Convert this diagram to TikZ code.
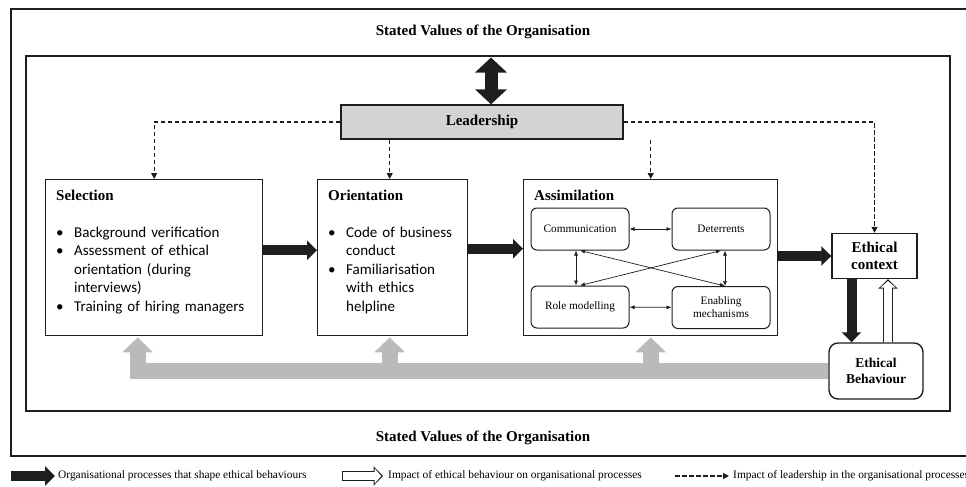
\documentclass[tikz,border=0pt]{standalone}
\usepackage{fontspec}
\setmainfont{Liberation Serif}
\newfontfamily\listfont{Carlito}
\usetikzlibrary{arrows.meta}
\definecolor{ink}{RGB}{30,30,30}
\definecolor{leadfill}{RGB}{210,211,213}
\definecolor{feedgray}{RGB}{185,186,188}
\tikzset{
	outerframe/.style={draw=ink, line width=1.2pt},
	innerframe/.style={draw=ink, line width=2.6pt},
	procbox/.style={draw=ink, line width=1.4pt, fill=white, anchor=north west, inner sep=0pt, minimum height=156pt},
	subbox/.style={draw=ink, line width=1pt, rounded corners=6pt, fill=white, minimum width=98pt, minimum height=42pt, align=center, font=\fontsize{11.3}{13}\selectfont},
	boxtext/.style={anchor=north west, align=left, inner sep=0pt, font=\fontsize{15}{18.5}\selectfont},
	heading/.style={font=\bfseries\fontsize{15}{18}\selectfont},
	keytext/.style={anchor=west, inner sep=0pt, font=\fontsize{11.4}{13}\selectfont},
	fat/.style={draw=ink, line width=10pt, -{Triangle[length=10pt,width=19pt]}},
	hollow/.style={draw=white, line width=7.4pt, -{Triangle[length=6.5pt,width=14.5pt]}, shorten >=1.8pt, shorten <=0.8pt,
		preaction={draw=ink, line width=10pt, -{Triangle[length=9.5pt,width=19pt]}, shorten >=0pt, shorten <=0pt}},
	leadline/.style={draw=ink, line width=1.2pt, dash pattern=on 4.5pt off 2.5pt, -{Triangle[length=6pt,width=6pt]}},
	link/.style={draw=ink, line width=0.7pt, {Latex[length=5pt,width=4pt]}-{Latex[length=5pt,width=4pt]}},
	feed/.style={draw=feedgray, line width=16pt, -{Triangle[length=15pt,width=30pt]}, shorten >=1pt},
}
\newcommand\bpoint[1]{\par\hangindent=18pt\hangafter=1\noindent\makebox[18pt][l]{\textbullet}#1}

\begin{document}
\begin{tikzpicture}[x=1pt, y=-1pt]
	\useasboundingbox (0,0) rectangle (966,487);

	% frames and values
	\draw[outerframe] (11,9) rectangle (968,456);
	\draw[innerframe] (26,56) rectangle (950,411);
	\node[heading] (valtop) at (483,32) {Stated Values of the Organisation};
	\node[heading] (valbot) at (483,438) {Stated Values of the Organisation};

	% leadership
	\node[heading, draw=ink, line width=1.3pt, fill=leadfill, minimum width=282pt, minimum height=34pt] (lead) at (482,122) {Leadership};
	\coordinate (vtop) at (491,57.5);
	\draw[draw=ink, line width=13pt, {Triangle[length=15pt,width=31pt]}-{Triangle[length=15pt,width=31pt]}] (vtop) -- (vtop |- lead.north);

	% processes
	\node[procbox, minimum width=217pt] (sel) at (45,179) {};
	\node[procbox, minimum width=150pt] (ori) at (317,179) {};
	\node[procbox, minimum width=254pt] (asm) at (523,179) {};

	\node[boxtext, text width=200pt] at ([shift={(11,11)}]sel.north west) {{\bfseries Selection}\par\vspace{18pt}\listfont
		\bpoint{Background verification}
		\bpoint{Assessment of ethical\newline orientation (during\newline interviews)}
		\bpoint{Training of hiring managers}\par};
	\node[boxtext, text width=135pt] at ([shift={(11,11)}]ori.north west) {{\bfseries Orientation}\par\vspace{18pt}\listfont
		\bpoint{Code of business\newline conduct}
		\bpoint{Familiarisation\newline with ethics\newline helpline}\par};
	\node[boxtext, heading] at ([shift={(11,11)}]asm.north west) {Assimilation};

	\node[subbox] (comm) at (580,229) {Communication};
	\node[subbox] (det) at (721,229) {Deterrents};
	\node[subbox] (role) at (580,307) {Role modelling};
	\node[subbox] (enab) at (721,307.5) {Enabling\\mechanisms};

	\draw[link] (comm) -- (det);
	\draw[link] (role) -- (enab);
	\draw[link] ([xshift=-4pt]comm.south) -- ([xshift=-4pt]role.north);
	\draw[link] ([xshift=4pt]det.south) -- ([xshift=4pt]enab.north);
	\draw[link] (comm.south) -- ([xshift=4pt]enab.north);
	\draw[link] (det.south) -- (role.north);

	% context and behaviour
	\node[draw=ink, line width=1.4pt, fill=white, minimum width=85pt, minimum height=45pt, align=center, font=\bfseries\fontsize{15}{17}\selectfont] (ctx) at (874.5,256) {Ethical\\context};
	\node[draw=ink, line width=1.4pt, fill=white, rounded corners=9pt, minimum width=94pt, minimum height=56pt, align=center, font=\bfseries\fontsize{13.5}{16}\selectfont] (beh) at (876,371) {Ethical\\Behaviour};

	\draw[fat] ([yshift=7.5pt]sel.east) -- ([yshift=7.5pt]ori.west);
	\draw[fat] ([yshift=9pt]ori.east) -- ([yshift=9pt]asm.west);
	\draw[fat] (asm.east |- ctx.west) -- (ctx.west);
	\draw[fat] ([xshift=-23pt]ctx.south) -- ([xshift=-23pt]ctx.south |- beh.north);
	\draw[hollow] ([xshift=13.5pt]ctx.south |- beh.north) -- ([xshift=13.5pt]ctx.south);

	% leadership influence
	\draw[leadline] (lead.west) -| (sel.north);
	\draw[leadline] ([xshift=-3pt]ori.north |- lead.south) -- ([xshift=-3pt]ori.north);
	\draw[leadline] (asm.north |- lead.south) -- (asm.north);
	\draw[leadline] (lead.east) -| (ctx.north);

	% feedback from behaviour
	\draw[feed, shorten <=0.7pt] (beh.west) -| ([xshift=-16.5pt]sel.south);
	\draw[feed] ([xshift=-3pt]ori.south |- beh.west) -- ([xshift=-3pt]ori.south);
	\draw[feed] (asm.south |- beh.west) -- (asm.south);

	% legend
	\node[keytext] (key1) at (58,476) {Organisational processes that shape ethical behaviours};
	\node[keytext] (key2) at (388,476) {Impact of ethical behaviour on organisational processes};
	\node[keytext] (key3) at (733,476) {Impact of leadership in the organisational processes};
	\coordinate (k1) at (11,476);
	\coordinate (k2a) at (342,476);
	\coordinate (k2b) at (383,476);
	\coordinate (k3) at (675,476);
	\draw[fat, shorten >=3pt] (k1) -- (key1.west);
	\draw[hollow] (k2a) -- (k2b);
	\draw[leadline, shorten >=4pt] (k3) -- (key3.west);
\end{tikzpicture}
\end{document}
